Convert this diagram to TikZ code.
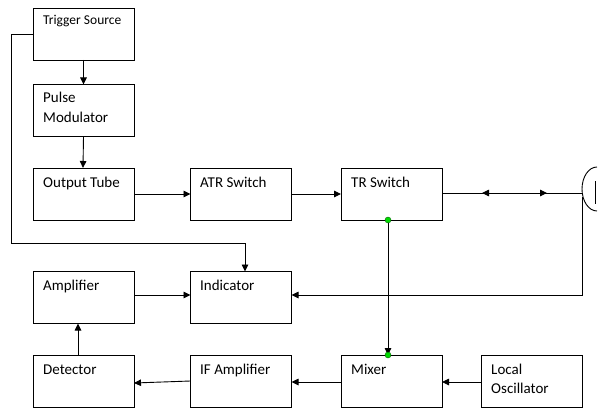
\documentclass[tikz,border=0pt]{standalone}
\usepackage{fontspec}
\setmainfont{Carlito}
\usetikzlibrary{arrows.meta}
\begin{document}
\begin{tikzpicture}[x=1pt,y=-1pt,
  box/.style={draw, line width=0.9pt, minimum width=101pt, minimum height=52pt, inner sep=0pt, outer sep=0pt},
  txt/.style={anchor=base west, inner sep=0pt, font=\fontsize{15}{18}\selectfont},
  stxt/.style={anchor=base west, inner sep=0pt, font=\fontsize{13.5}{16}\selectfont},
  conn/.style={line width=0.9pt, -{Triangle[length=7pt,width=6.5pt]}},
  plain/.style={line width=0.9pt},
  gdot/.style={circle, fill=green!85!black, draw=green!40!black, line width=0.4pt, inner sep=0pt, minimum size=6pt}]
\useasboundingbox (0,0) rectangle (604,414);
\fill[white] (0,0) rectangle (604,414);

% boxes
\node[box] (trig)  at (83.5,34)   {};
\node[box] (pulse) at (83.5,110.5){};
\node[box] (tube)  at (83.5,194)  {};
\node[box] (atr)   at (241,194)   {};
\node[box] (tr)    at (391.5,194) {};
\node[box] (amp)   at (83.5,297.5){};
\node[box] (ind)   at (241,297.5) {};
\node[box] (det)   at (83.5,381)  {};
\node[box] (ifa)   at (241,381)   {};
\node[box] (mix)   at (391.5,381) {};
\node[box] (lo)    at (531.5,381) {};

% texts
\node[stxt] (ttrig) at (43,25) {Trigger Source};
\node[txt] (tpulse1) at (43,103) {Pulse};
\node[txt] (tpulse2) at (43,122.5) {Modulator};
\node[txt] (ttube) at (43,187) {Output Tube};
\node[txt] (tatr) at (200,187) {ATR Switch};
\node[txt] (ttr) at (351,187) {TR Switch};
\node[txt] (tamp) at (43,290) {Amplifier};
\node[txt] (tind) at (200,290) {Indicator};
\node[txt] (tdet) at (43,374) {Detector};
\node[txt] (tifa) at (200,374) {IF Amplifier};
\node[txt] (tmix) at (351,374) {Mixer};
\node[txt] (tlo1) at (491,374) {Local};
\node[txt] (tlo2) at (491,393.5) {Oscillator};

% antenna
\coordinate (ant) at (582,193);
\coordinate (antb) at (582,197);
\draw[plain] (597,211) arc[start angle=90, end angle=270, x radius=15, y radius=22];
\draw[plain] (595,181) -- (595,204);

% connectors
\draw[conn] (trig.south) -- (pulse.north);
\draw[conn] (pulse.south) -- ([xshift=-0.5pt]tube.north);
\draw[conn] (tube.east) -- (atr.west);
\draw[conn] (atr.east) -- (tr.west);

\coordinate (m1) at (514,193);
\coordinate (a1) at (482,193);
\coordinate (a2) at (547,193);
\draw[plain] ([yshift=1pt]tr.east) -- (ant);
\draw[conn] (m1) -- (a1);
\draw[conn] (m1) -- (a2);

\coordinate (c1) at (11,243);
\draw[conn] (trig.west) -| (c1) -| ([xshift=4pt]ind.north);

\draw[conn] (antb) |- ([yshift=2.5pt]ind.east);
\draw[conn] ([yshift=2.5pt]amp.east) -- ([yshift=2.5pt]ind.west);

\draw[conn] ([xshift=-5.5pt]det.north) -- ([xshift=-5.5pt]amp.south);
\draw[conn] (ifa.west) -- ([yshift=-2pt]det.east);
\draw[conn] ([yshift=-1pt]mix.west) -- ([yshift=-1pt]ifa.east);
\draw[conn] ([yshift=-1pt]lo.west) -- ([yshift=-1pt]mix.east);

\draw[conn] ([xshift=-3.5pt]tr.south) -- ([xshift=-3.5pt]mix.north);
\node[gdot] (d1) at ([xshift=-3.5pt]tr.south) {};
\node[gdot] (d2) at ([xshift=-3.5pt]mix.north) {};
\end{tikzpicture}
\end{document}
